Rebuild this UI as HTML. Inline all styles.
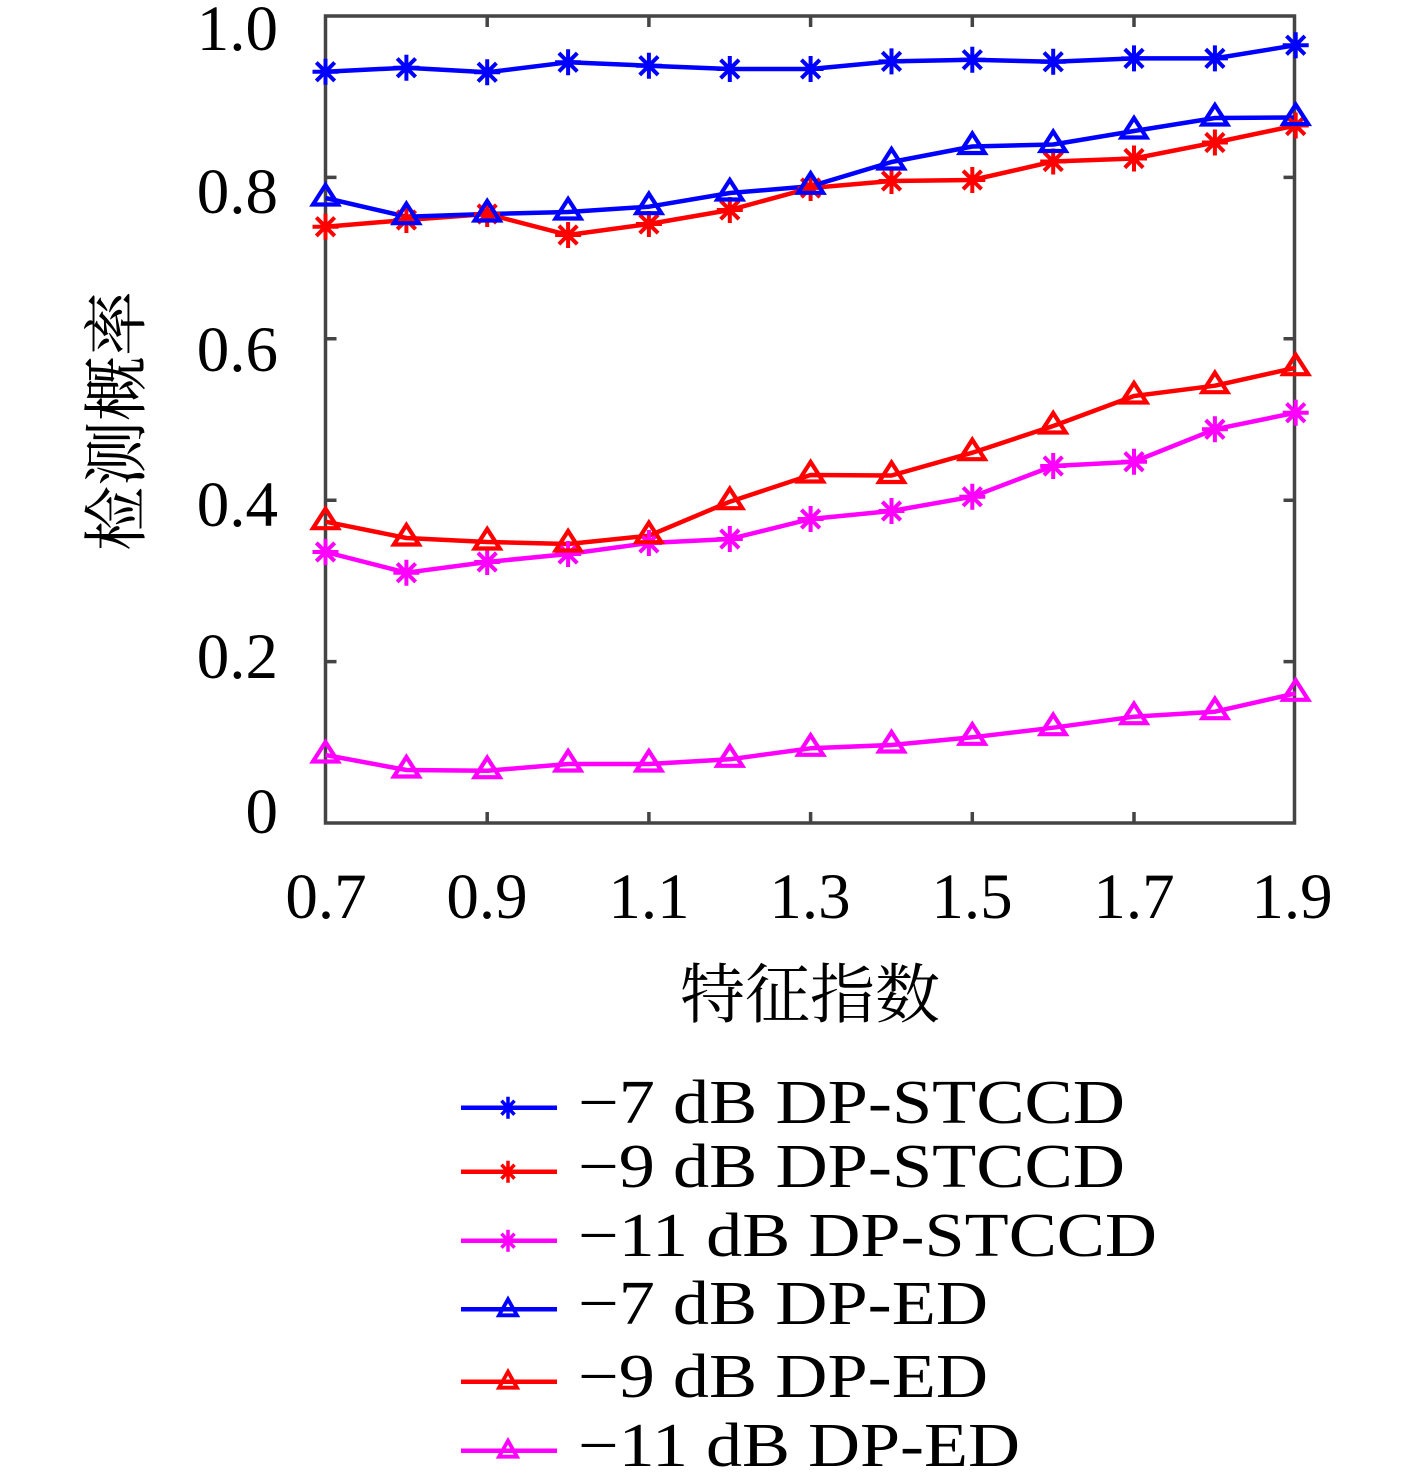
<!DOCTYPE html>
<html><head><meta charset="utf-8"><style>
html,body{margin:0;padding:0;background:#fff;}
svg{display:block;}
</style></head><body>
<svg xmlns="http://www.w3.org/2000/svg" width="1417" height="1476" viewBox="0 0 1417 1476">
<rect width="1417" height="1476" fill="#fff"/>
<defs>
<g id="st"><path d="M0,-13V13M-13,0H13M-9.2,-9.2L9.2,9.2M-9.2,9.2L9.2,-9.2" stroke-width="4" fill="none"/></g>
<g id="tr"><path d="M0,-13L12.5,6.5L-12.5,6.5Z" stroke-width="4.2" fill="none" stroke-linejoin="miter"/></g>
<g id="lst"><path d="M0,-11V11M-8,0H8M-6.5,-7L6.5,7M-6.5,7L6.5,-7" stroke-width="3.5" fill="none"/></g>
<g id="ltr"><path d="M0,-10L9,6L-9,6Z" stroke-width="3.8" fill="none"/></g>
</defs>
<!-- axes box -->
<g stroke="#444" stroke-width="3.5" fill="none">
<rect x="325.5" y="16" width="969" height="807"/>
<path d="M487.2,823v-11M648.9,823v-11M810.6,823v-11M972.3,823v-11M1134,823v-11
M487.2,16v11M648.9,16v11M810.6,16v11M972.3,16v11M1134,16v11"/>
<path d="M325.5,661.6h11M325.5,500.2h11M325.5,338.8h11M325.5,177.4h11
M1294.5,661.6h-11M1294.5,500.2h-11M1294.5,338.8h-11M1294.5,177.4h-11"/>
</g>
<!-- tick labels -->
<g font-family="'Liberation Serif', serif" font-size="65" fill="#000">
<g text-anchor="end">
<text x="278" y="50">1.0</text>
<text x="278" y="213">0.8</text>
<text x="278" y="371">0.6</text>
<text x="278" y="526">0.4</text>
<text x="278" y="678">0.2</text>
<text x="278" y="833">0</text>
</g>
<g text-anchor="middle">
<text x="326" y="918">0.7</text>
<text x="487" y="918">0.9</text>
<text x="649" y="918">1.1</text>
<text x="810" y="918">1.3</text>
<text x="972" y="918">1.5</text>
<text x="1134" y="918">1.7</text>
<text x="1292" y="918">1.9</text>
</g>
</g>
<!-- axis labels -->
<text x="810" y="996" text-anchor="middle" dominant-baseline="central" font-family="'Liberation Serif','Noto Serif CJK SC',serif" font-size="65" fill="#000">特征指数</text>
<text transform="translate(118,421) rotate(-90)" text-anchor="middle" dominant-baseline="central" font-family="'Liberation Serif','Noto Serif CJK SC',serif" font-size="65" fill="#000">检测概率</text>

<!-- series -->
<g fill="none" stroke-width="4.5" stroke-linejoin="round">
<polyline stroke="#0000ff" points="325.5,71.7 406.4,67.7 487.2,72.3 568.1,62.3 648.9,65.7 729.8,69 810.6,69 891.5,61.4 972.3,59.7 1053.2,61.8 1134,58.4 1214.9,58.4 1295.7,45.2"/>
<polyline stroke="#ff0000" points="325.5,226.7 406.4,220 487.2,214 568.1,235 648.9,224 729.8,210 810.6,188 891.5,181 972.3,180 1053.2,161.5 1134,158.5 1214.9,142.5 1295.7,125.5"/>
<polyline stroke="#ff00ff" points="325.5,552 406.4,572.7 487.2,562 568.1,554 648.9,543 729.8,539 810.6,519 891.5,511 972.3,496.7 1053.2,466 1134,461.7 1214.9,429.3 1295.7,412.7"/>
<polyline stroke="#0000ff" points="325.5,198 406.4,216.7 487.2,214 568.1,212 648.9,206.7 729.8,193 810.6,186.3 891.5,162 972.3,146.5 1053.2,144.5 1134,131 1214.9,118 1295.7,117.5"/>
<polyline stroke="#ff0000" points="325.5,521.7 406.4,538 487.2,542 568.1,544 648.9,535.7 729.8,501.7 810.6,475 891.5,475.5 972.3,452.7 1053.2,426 1134,396 1214.9,385.7 1295.7,367.7"/>
<polyline stroke="#ff00ff" points="325.5,755 406.4,770 487.2,770.7 568.1,764 648.9,764 729.8,759.3 810.6,748.3 891.5,745 972.3,737.3 1053.2,727.7 1134,716.7 1214.9,711.7 1295.7,693.3"/>
</g>
<!-- markers -->
<g stroke="#0000ff">
<use href="#st" x="325.5" y="71.7"/><use href="#st" x="406.4" y="67.7"/><use href="#st" x="487.2" y="72.3"/><use href="#st" x="568.1" y="62.3"/><use href="#st" x="648.9" y="65.7"/><use href="#st" x="729.8" y="69"/><use href="#st" x="810.6" y="69"/><use href="#st" x="891.5" y="61.4"/><use href="#st" x="972.3" y="59.7"/><use href="#st" x="1053.2" y="61.8"/><use href="#st" x="1134" y="58.4"/><use href="#st" x="1214.9" y="58.4"/><use href="#st" x="1295.7" y="45.2"/>
</g>
<g stroke="#ff0000">
<use href="#st" x="325.5" y="226.7"/><use href="#st" x="406.4" y="220"/><use href="#st" x="487.2" y="214"/><use href="#st" x="568.1" y="235"/><use href="#st" x="648.9" y="224"/><use href="#st" x="729.8" y="210"/><use href="#st" x="810.6" y="188"/><use href="#st" x="891.5" y="181"/><use href="#st" x="972.3" y="180"/><use href="#st" x="1053.2" y="161.5"/><use href="#st" x="1134" y="158.5"/><use href="#st" x="1214.9" y="142.5"/><use href="#st" x="1295.7" y="125.5"/>
</g>
<g stroke="#ff00ff">
<use href="#st" x="325.5" y="552"/><use href="#st" x="406.4" y="572.7"/><use href="#st" x="487.2" y="562"/><use href="#st" x="568.1" y="554"/><use href="#st" x="648.9" y="543"/><use href="#st" x="729.8" y="539"/><use href="#st" x="810.6" y="519"/><use href="#st" x="891.5" y="511"/><use href="#st" x="972.3" y="496.7"/><use href="#st" x="1053.2" y="466"/><use href="#st" x="1134" y="461.7"/><use href="#st" x="1214.9" y="429.3"/><use href="#st" x="1295.7" y="412.7"/>
</g>
<g stroke="#0000ff">
<use href="#tr" x="325.5" y="198"/><use href="#tr" x="406.4" y="216.7"/><use href="#tr" x="487.2" y="214"/><use href="#tr" x="568.1" y="212"/><use href="#tr" x="648.9" y="206.7"/><use href="#tr" x="729.8" y="193"/><use href="#tr" x="810.6" y="186.3"/><use href="#tr" x="891.5" y="162"/><use href="#tr" x="972.3" y="146.5"/><use href="#tr" x="1053.2" y="144.5"/><use href="#tr" x="1134" y="131"/><use href="#tr" x="1214.9" y="118"/><use href="#tr" x="1295.7" y="117.5"/>
</g>
<g stroke="#ff0000">
<use href="#tr" x="325.5" y="521.7"/><use href="#tr" x="406.4" y="538"/><use href="#tr" x="487.2" y="542"/><use href="#tr" x="568.1" y="544"/><use href="#tr" x="648.9" y="535.7"/><use href="#tr" x="729.8" y="501.7"/><use href="#tr" x="810.6" y="475"/><use href="#tr" x="891.5" y="475.5"/><use href="#tr" x="972.3" y="452.7"/><use href="#tr" x="1053.2" y="426"/><use href="#tr" x="1134" y="396"/><use href="#tr" x="1214.9" y="385.7"/><use href="#tr" x="1295.7" y="367.7"/>
</g>
<g stroke="#ff00ff">
<use href="#tr" x="325.5" y="755"/><use href="#tr" x="406.4" y="770"/><use href="#tr" x="487.2" y="770.7"/><use href="#tr" x="568.1" y="764"/><use href="#tr" x="648.9" y="764"/><use href="#tr" x="729.8" y="759.3"/><use href="#tr" x="810.6" y="748.3"/><use href="#tr" x="891.5" y="745"/><use href="#tr" x="972.3" y="737.3"/><use href="#tr" x="1053.2" y="727.7"/><use href="#tr" x="1134" y="716.7"/><use href="#tr" x="1214.9" y="711.7"/><use href="#tr" x="1295.7" y="693.3"/>
</g>

<!-- legend -->
<g stroke-width="4.5" fill="none">
<path stroke="#0000ff" d="M461,1107.7H557"/>
<path stroke="#ff0000" d="M461,1171.7H557"/>
<path stroke="#ff00ff" d="M461,1240.7H557"/>
<path stroke="#0000ff" d="M461,1309.3H557"/>
<path stroke="#ff0000" d="M461,1381.7H557"/>
<path stroke="#ff00ff" d="M461,1450.7H557"/>
</g>
<use href="#lst" x="508" y="1107.7" stroke="#0000ff"/>
<use href="#lst" x="508" y="1171.7" stroke="#ff0000"/>
<use href="#lst" x="508" y="1240.7" stroke="#ff00ff"/>
<use href="#ltr" x="508" y="1309.3" stroke="#0000ff"/>
<use href="#ltr" x="508" y="1381.7" stroke="#ff0000"/>
<use href="#ltr" x="508" y="1450.7" stroke="#ff00ff"/>
<g font-family="'Liberation Serif', serif" font-size="62" fill="#000">
<text x="578" y="1123" textLength="547" lengthAdjust="spacingAndGlyphs">−7 dB DP-STCCD</text>
<text x="578" y="1187" textLength="547" lengthAdjust="spacingAndGlyphs">−9 dB DP-STCCD</text>
<text x="578" y="1256" textLength="579" lengthAdjust="spacingAndGlyphs">−11 dB DP-STCCD</text>
<text x="578" y="1324" textLength="410" lengthAdjust="spacingAndGlyphs">−7 dB DP-ED</text>
<text x="578" y="1397" textLength="410" lengthAdjust="spacingAndGlyphs">−9 dB DP-ED</text>
<text x="578" y="1466" textLength="442" lengthAdjust="spacingAndGlyphs">−11 dB DP-ED</text>
</g>
</svg>
</body></html>
